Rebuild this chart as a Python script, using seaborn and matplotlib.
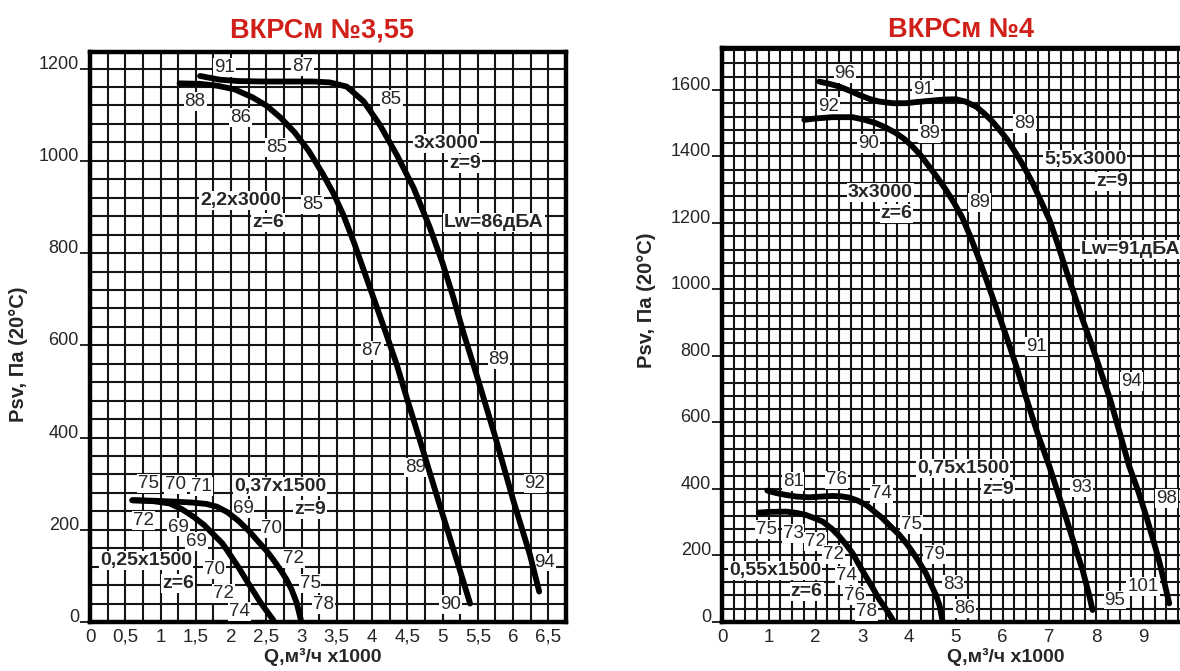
import matplotlib
matplotlib.use("Agg")
import matplotlib.pyplot as plt
import seaborn as sns
import pandas as pd
from matplotlib.ticker import MultipleLocator

sns.set_theme(context="notebook", style="white")
plt.rcParams['font.family'] = ['Liberation Sans', 'DejaVu Sans']

# ВКРСм №3,55 : Q (x1000 m3/h) -> Psv (Pa)
q_22x3000 = [1.27, 1.55, 1.8, 2.05, 2.3, 2.5, 2.7, 2.9, 3.1, 3.3, 3.45, 3.6, 3.75, 3.9,
             4.05, 4.2, 4.35, 4.5, 4.7, 4.9, 5.1, 5.25, 5.39]
p_22x3000 = [1168, 1167, 1163, 1155, 1138, 1120, 1094, 1062, 1022, 972, 930, 880, 820, 755,
             690, 625, 558, 482, 383, 283, 184, 110, 40]
q_3x3000 = [1.56, 1.84, 2.1, 2.46, 2.8, 3.17, 3.4, 3.64, 3.88, 4.11, 4.35, 4.59, 4.82, 5.0,
            5.15, 5.3, 5.49, 5.74, 6.0, 6.24, 6.37]
p_3x3000 = [1184, 1176, 1173, 1172, 1172, 1172, 1170, 1161, 1129, 1078, 1013, 941, 855, 778,
            705, 625, 532, 405, 265, 145, 66]
q_025x1500 = [0.6, 0.9, 1.13, 1.3, 1.47, 1.62, 1.75, 1.88, 1.99, 2.1, 2.22, 2.32, 2.41, 2.5, 2.6]
p_025x1500 = [264, 262, 257, 245, 228, 210, 190, 170, 145, 120, 90, 66, 44, 25, 4]
q_037x1500 = [0.6, 0.9, 1.2, 1.45, 1.65, 1.8, 1.95, 2.1, 2.25, 2.4, 2.5, 2.6, 2.7, 2.78, 2.86,
              2.93, 2.99]
p_037x1500 = [264, 263, 261, 259, 256, 250, 238, 220, 198, 172, 155, 135, 113, 94, 70, 42, 5]

# ВКРСм №4
q_3x3000_n4 = [1.76, 2.0, 2.36, 2.79, 3.05, 3.29, 3.5, 3.72, 3.9, 4.07, 4.25, 4.43, 4.6, 4.79,
               4.97, 5.14, 5.32, 5.5, 5.7, 5.9, 6.1, 6.3, 6.5, 6.75, 7.0, 7.2, 7.35, 7.55,
               7.71, 7.85, 7.92]
p_3x3000_n4 = [1510, 1514, 1518, 1518, 1510, 1500, 1487, 1470, 1452, 1430, 1403, 1369, 1337,
               1299, 1258, 1215, 1155, 1089, 1010, 930, 850, 765, 675, 565, 467, 380, 315,
               225, 155, 80, 36]
q_55x3000 = [2.08, 2.3, 2.51, 2.72, 2.93, 3.15, 3.36, 3.65, 3.93, 4.2, 4.5, 4.75, 5.0, 5.2,
             5.43, 5.6, 5.78, 5.93, 6.1, 6.28, 6.45, 6.64, 6.82, 7.0, 7.18, 7.35, 7.53, 7.71,
             7.9, 8.06, 8.3, 8.5, 8.7, 8.9, 9.06, 9.2, 9.34, 9.45, 9.56]
p_55x3000 = [1625, 1618, 1610, 1598, 1585, 1573, 1565, 1560, 1560, 1564, 1568, 1571, 1572,
             1565, 1550, 1530, 1505, 1480, 1450, 1410, 1370, 1320, 1265, 1209, 1135, 1060,
             985, 908, 835, 768, 668, 570, 470, 392, 322, 255, 186, 122, 56]
q_055x1500 = [0.79, 1.0, 1.37, 1.6, 1.79, 2.0, 2.15, 2.35, 2.51, 2.65, 2.79, 2.93, 3.08, 3.22,
              3.36, 3.5, 3.6, 3.67]
p_055x1500 = [329, 331, 332, 328, 322, 311, 302, 280, 257, 233, 207, 172, 136, 103, 68, 40, 18, 2]
q_075x1500 = [0.97, 1.15, 1.37, 1.6, 1.87, 2.1, 2.36, 2.55, 2.72, 2.9, 3.08, 3.25, 3.43, 3.6,
              3.79, 3.95, 4.07, 4.2, 4.36, 4.47, 4.57, 4.65, 4.71]
p_075x1500 = [395, 388, 382, 377, 375, 377, 379, 378, 374, 365, 352, 333, 312, 288, 262, 235,
              211, 183, 146, 112, 82, 50, 6]

x_ticks_355 = [0, 0.5, 1, 1.5, 2, 2.5, 3, 3.5, 4, 4.5, 5, 5.5, 6, 6.5]
x_labels_355 = ['0', '0,5', '1', '1,5', '2', '2,5', '3', '3,5', '4', '4,5', '5', '5,5', '6', '6,5']
y_ticks_355 = [0, 200, 400, 600, 800, 1000, 1200]
x_ticks_4 = [0, 1, 2, 3, 4, 5, 6, 7, 8, 9]
y_ticks_4 = [0, 200, 400, 600, 800, 1000, 1200, 1400, 1600]

# (text, Q, Psv, bold)
notes_355 = [
    ('91', 1.91, 1202, False), ('87', 3.01, 1204, False), ('88', 1.49, 1129, False),
    ('86', 2.13, 1094, False), ('85', 2.65, 1029, False), ('85', 3.16, 906, False),
    ('85', 4.27, 1133, False), ('3x3000', 5.05, 1038, True), ('z=9', 5.32, 995, True),
    ('2,2x3000', 2.14, 915, True), ('z=6', 2.52, 867, True), ('Lw=86дБА', 5.73, 867, True),
    ('87', 4.0, 588, False), ('89', 5.80, 569, False), ('89', 4.62, 335, False),
    ('92', 6.31, 301, False), ('94', 6.45, 130, False), ('90', 5.11, 37, False),
    ('75', 0.83, 301, False), ('70', 1.21, 298, False), ('71', 1.58, 294, False),
    ('0,37x1500', 2.70, 294, True), ('69', 2.17, 247, False), ('z=9', 3.12, 244, True),
    ('72', 0.76, 221, False), ('69', 1.25, 206, False), ('70', 2.58, 203, False),
    ('69', 1.51, 174, False), ('0,25x1500', 0.80, 134, True), ('72', 2.88, 138, False),
    ('70', 1.77, 114, False), ('z=6', 1.25, 84, True), ('75', 3.12, 84, False),
    ('72', 1.89, 62, False), ('78', 3.31, 37, False), ('74', 2.12, 22, False),
]
notes_4 = [
    ('96', 2.63, 1650, False), ('91', 4.30, 1602, False), ('92', 2.27, 1550, False),
    ('90', 3.13, 1438, False), ('89', 4.44, 1470, False), ('3x3000', 3.38, 1291, True),
    ('z=6', 3.73, 1227, True), ('89', 5.51, 1261, False), ('89', 6.47, 1500, False),
    ('5;5x3000', 7.76, 1392, True), ('z=9', 8.33, 1324, True), ('Lw=91дБА', 8.74, 1119, True),
    ('91', 6.72, 828, False),
    ('94', 8.75, 723, False), ('93', 7.69, 405, False), ('98', 9.50, 372, False),
    ('101', 9.0, 106, False), ('95', 8.40, 66, False), ('0,75x1500', 5.16, 462, True),
    ('z=9', 5.90, 399, True), ('81', 1.52, 422, False), ('76', 2.45, 427, False),
    ('74', 3.41, 387, False), ('75', 0.96, 279, False), ('73', 1.52, 267, False),
    ('72', 1.99, 242, False), ('75', 4.05, 292, False), ('72', 2.38, 202, False),
    ('79', 4.55, 202, False), ('0,55x1500', 1.13, 156, True), ('74', 2.66, 141, False),
    ('83', 4.94, 114, False), ('z=6', 1.81, 91, True), ('76', 2.84, 81, False),
    ('86', 5.19, 41, False), ('78', 3.09, 31, False),
]

curves_355 = [(q_22x3000, p_22x3000), (q_3x3000, p_3x3000),
              (q_025x1500, p_025x1500), (q_037x1500, p_037x1500)]
curves_4 = [(q_3x3000_n4, p_3x3000_n4), (q_55x3000, p_55x3000),
            (q_055x1500, p_055x1500), (q_075x1500, p_075x1500)]


def make_df(curves):
    parts = []
    for i, (q, p) in enumerate(curves):
        parts.append(pd.DataFrame({'Q': q, 'P': p, 'curve': i}))
    return pd.concat(parts, ignore_index=True)


def draw_panel(ax, curves, notes, xlim, ylim, xticks, xlabels, yticks):
    df = make_df(curves)
    sns.lineplot(data=df, x='Q', y='P', units='curve', estimator=None, sort=False,
                 color='black', lw=4.2, ax=ax, zorder=5,
                 solid_capstyle='round', solid_joinstyle='round')
    ax.set_xlim(*xlim)
    ax.set_ylim(*ylim)
    ax.set_xticks(xticks, xlabels)
    ax.set_yticks(yticks, [str(t) for t in yticks])
    ax.xaxis.set_minor_locator(MultipleLocator(0.25))
    ax.yaxis.set_minor_locator(MultipleLocator(40))
    ax.grid(which='both', color='#151515', lw=1.5)
    ax.set_axisbelow(True)
    ax.tick_params(axis='x', which='major', length=0, pad=5, labelsize=13.5)
    ax.tick_params(axis='y', which='major', length=7, width=1.2, pad=1, labelsize=13,
                   left=True, color='black')
    ax.tick_params(which='minor', length=0)
    plt.setp(ax.get_yticklabels(), va='baseline')
    for s in ax.spines.values():
        s.set_linewidth(3.2)
        s.set_color('black')
    for text, q, p, bold in notes:
        ax.text(q, p, text, ha='center', va='center', zorder=4,
                fontsize=14 if bold else 13.5,
                fontweight='bold' if bold else 'normal',
                bbox=dict(boxstyle='square,pad=0.05', fc='white', ec='none'))
    ax.set_xlabel('Q,м³/ч x1000', fontsize=14, fontweight='bold')
    ax.set_ylabel('Psv, Па (20°C)', fontsize=14.5, fontweight='bold')


fig = plt.figure(figsize=(11.8, 6.71), dpi=100)
ax1 = fig.add_axes([90 / 1180, 49 / 671, 476 / 1180, 570 / 671])
ax2 = fig.add_axes([722 / 1180, 49 / 671, 458 / 1180, 574 / 671])

draw_panel(ax1, curves_355, notes_355, (0, 6.75), (0, 1236),
           x_ticks_355, x_labels_355, y_ticks_355)
draw_panel(ax2, curves_4, notes_4, (0, 9.79), (0, 1726),
           x_ticks_4, [str(t) for t in x_ticks_4], y_ticks_4)
ax2.spines['right'].set_visible(False)

ax1.xaxis.set_label_coords(0.49, -0.046)
ax1.yaxis.set_label_coords(-0.13, 0.47)
ax2.xaxis.set_label_coords(0.62, -0.046)
ax2.yaxis.set_label_coords(-0.145, 0.56)

fig.text(322 / 1180, 1 - 37 / 671, 'ВКРСм №3,55', color='#d0201a', fontsize=19.5,
         fontweight='bold', ha='center', va='baseline')
fig.text(961 / 1180, 1 - 37 / 671, 'ВКРСм №4', color='#d0201a', fontsize=19.5,
         fontweight='bold', ha='center', va='baseline')

fig.savefig('out.png', dpi=100)
